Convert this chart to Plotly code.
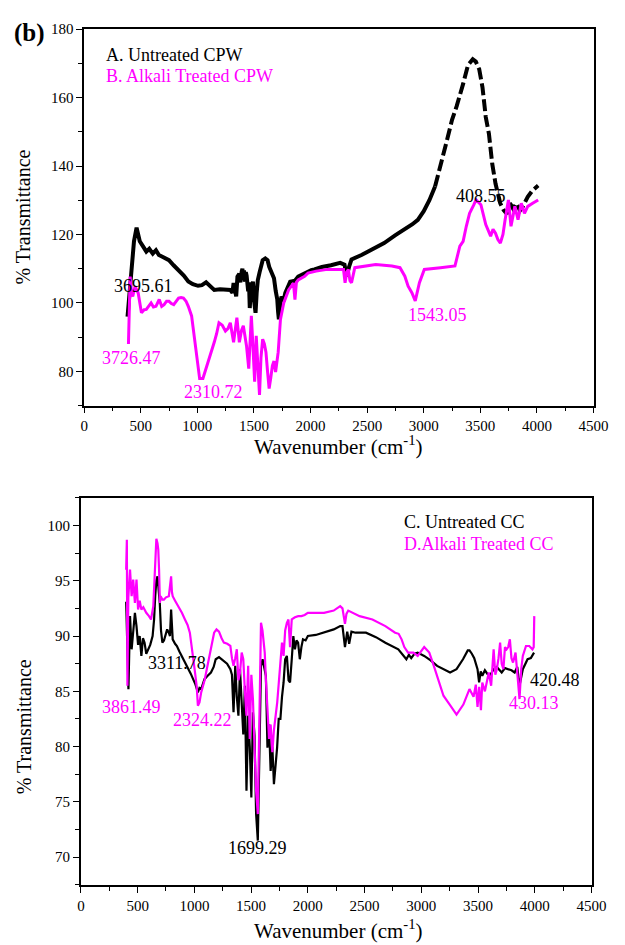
import plotly.graph_objects as go

# ---------------- Data ----------------
# Panel 1: CPW  (Untreated = black, Alkali treated = magenta)
cpw_untreated_wn = [383, 405, 420, 440, 463, 491, 520, 549, 575, 606, 634, 660, 691, 720, 749, 790, 834, 880, 920,
                    960, 1006, 1040, 1077, 1110, 1149, 1200, 1250, 1291, 1310, 1320, 1343, 1354, 1370, 1380, 1391,
                    1398, 1405, 1412, 1420, 1428, 1435, 1449, 1456, 1463, 1470, 1477, 1491, 1500, 1514, 1524, 1534,
                    1550, 1563, 1577, 1600, 1620, 1635, 1649, 1663, 1677, 1692, 1706, 1713, 1720, 1730, 1743, 1760,
                    1777, 1820, 1862, 1891, 1950, 2006, 2034, 2100, 2180, 2262, 2300, 2319, 2340, 2362, 2450, 2548,
                    2650, 2750, 2833, 2900, 2948, 3000, 3050, 3100]
cpw_untreated_t = [96.0, 104.0, 112.5, 118.0, 122.0, 118.0, 116.5, 115.0, 115.8, 114.4, 115.4, 114.0, 113.5, 113.0,
                   112.5, 111.0, 109.6, 108.0, 106.3, 105.5, 105.0, 105.2, 106.0, 104.8, 103.8, 104.0, 103.8, 103.8,
                   103.0, 105.8, 101.9, 107.7, 108.5, 106.0, 109.1, 110.0, 107.0, 109.5, 106.2, 109.0, 108.0, 103.4,
                   106.0, 98.5, 103.0, 104.0, 106.2, 101.0, 97.1, 103.0, 106.7, 109.0, 111.5, 112.5, 113.0, 112.5,
                   110.5, 109.6, 108.5, 107.2, 103.5, 101.0, 97.5, 95.2, 99.0, 101.9, 100.5, 102.9, 106.2, 106.5,
                   107.7, 108.8, 109.6, 109.8, 110.5, 111.0, 111.7, 111.2, 107.8, 110.5, 112.7, 114.0, 115.6, 117.5,
                   119.8, 121.4, 123.0, 124.3, 126.8, 130.0, 134.0]
cpw_untreated_hi_wn = [3100, 3150, 3205, 3250, 3291, 3348, 3391, 3433, 3460, 3490, 3519, 3548, 3576, 3605, 3634,
                       3676, 3705, 3735, 3762, 3790, 3819, 3850, 3876, 3919, 3962, 4011]
cpw_untreated_hi_t = [134.0, 140.0, 147.5, 153.5, 157.5, 164.0, 169.5, 171.2, 170.5, 168.3, 163.0, 154.3, 149.4,
                      140.7, 134.9, 129.1, 127.2, 126.0, 129.1, 127.5, 129.1, 127.0, 128.2, 131.0, 132.9, 134.3]

cpw_alkali_wn = [391, 400, 406, 418, 429, 449, 477, 506, 530, 549, 570, 591, 612, 634, 663, 685, 706, 728, 749, 770,
                 791, 812, 834, 856, 877, 900, 920, 949, 970, 991, 1020, 1049, 1077, 1100, 1120, 1149, 1170, 1191,
                 1220, 1248, 1270, 1291, 1320, 1335, 1349, 1371, 1390, 1406, 1420, 1434, 1454, 1477, 1490, 1506, 1520,
                 1535, 1549, 1562, 1577, 1592, 1606, 1620, 1634, 1648, 1663, 1677, 1691, 1714, 1734, 1763, 1806,
                 1849, 1862, 1875, 1891, 1948, 1977, 2050, 2148, 2291, 2305, 2320, 2334, 2348, 2362, 2391, 2480,
                 2576, 2719, 2790, 2833, 2862, 2895, 2925, 2962, 3005, 3148, 3276, 3319, 3348, 3376, 3405, 3440,
                 3462, 3505, 3548, 3591, 3612, 3634, 3655, 3677, 3700, 3719, 3748, 3771, 3805, 3833, 3862, 3890,
                 3919, 3962, 4011]
cpw_alkali_t = [88.0, 98.0, 107.7, 103.0, 101.9, 104.8, 102.9, 97.1, 98.0, 98.1, 99.0, 100.0, 98.8, 99.0, 101.0, 99.0,
                99.5, 100.5, 100.5, 99.8, 99.5, 100.5, 101.4, 101.6, 101.4, 100.5, 99.0, 96.2, 91.0, 85.6, 77.9, 77.9,
                80.8, 83.0, 85.6, 88.5, 91.0, 94.2, 93.5, 91.8, 92.5, 94.2, 88.5, 93.0, 95.7, 88.5, 92.0, 93.3, 90.0,
                87.5, 80.8, 96.2, 88.0, 77.0, 90.4, 82.0, 73.1, 84.0, 89.4, 88.0, 85.6, 80.0, 75.0, 78.0, 81.7, 83.0,
                79.8, 85.6, 95.2, 100.0, 103.8, 105.8, 101.0, 106.0, 106.7, 107.8, 108.7, 109.3, 109.8, 109.8,
                105.9, 109.0, 109.8, 106.5, 105.9, 110.3, 110.8, 111.2, 110.8, 110.3, 107.8, 104.9, 103.0, 100.6,
                105.9, 109.8, 110.3, 110.8, 116.6, 118.0, 122.4, 126.2, 128.5, 130.1, 128.7, 122.9, 119.5, 121.5,
                120.4, 118.5, 117.5, 120.0, 124.3, 130.1, 122.4, 128.2, 124.3, 129.1, 126.2, 128.2, 129.1, 130.1]

# Panel 2: CC  (Untreated = black, Alkali treated = magenta)
cc_untreated_wn = [399, 405, 412, 419, 433, 447, 462, 476, 490, 504, 518, 533, 547, 561, 576, 590, 611, 632, 645, 655,
                   665, 675, 685, 695, 706, 718, 732, 746, 760, 775, 785, 795, 802, 809, 830, 846, 868, 889, 917, 946,
                   968, 989, 1010, 1031, 1045, 1060, 1074, 1089, 1117, 1146, 1170, 1188, 1217, 1250, 1288, 1317, 1331,
                   1345, 1360, 1374, 1388, 1402, 1417, 1431, 1445, 1459, 1474, 1488, 1502, 1516, 1530, 1544, 1559,
                   1573, 1587, 1601, 1615, 1630, 1644, 1658, 1672, 1687, 1701, 1715, 1729, 1743, 1758, 1772, 1786,
                   1800, 1815, 1830, 1843, 1858, 1872, 1886, 1900, 1914, 1929, 1943, 1957, 1980, 2000, 2070, 2142,
                   2228, 2285, 2305, 2327, 2347, 2364, 2384, 2420, 2512, 2600, 2683, 2797, 2868, 2890, 2911, 2940,
                   2968, 3025, 3082, 3139, 3196, 3253, 3310, 3367, 3409, 3424, 3445, 3466, 3495, 3509, 3523, 3537,
                   3560, 3594, 3615, 3637, 3665, 3708, 3737, 3765, 3794, 3822, 3845, 3865, 3880, 3894, 3936, 3965,
                   3993]
cc_untreated_t = [93.1, 90.0, 88.0, 85.2, 91.8, 88.8, 90.5, 92.1, 90.9, 89.2, 90.0, 88.2, 89.8, 89.4, 88.4, 88.8, 89.2,
                  90.0, 91.5, 93.6, 95.0, 95.4, 94.0, 93.0, 90.5, 89.4, 89.6, 90.0, 90.6, 90.3, 90.0, 92.4, 90.5, 89.7,
                  89.3, 89.1, 88.6, 88.2, 87.6, 87.0, 86.6, 86.1, 85.6, 84.9, 85.3, 85.2, 85.6, 86.1, 86.4, 86.7, 87.2,
                  87.9, 88.1, 87.8, 87.5, 87.0, 86.5, 83.1, 87.3, 84.5, 82.8, 87.0, 83.5, 81.1, 85.5, 76.0, 82.8, 80.0,
                  75.4, 83.1, 81.0, 73.9, 71.5, 81.4, 87.3, 87.9, 87.2, 86.4, 79.9, 82.0, 77.8, 80.0, 76.6, 78.0, 79.9,
                  82.5, 82.5, 84.5, 85.8, 87.9, 88.2, 86.0, 85.8, 87.9, 90.0, 88.8, 89.6, 89.4, 87.9, 89.0, 89.7, 89.6,
                  90.0, 90.1, 90.3, 90.6, 90.9, 90.9, 89.0, 90.4, 89.3, 90.4, 90.3, 90.3, 89.9, 89.4, 88.8, 87.9, 88.3,
                  88.0, 88.4, 88.5, 88.2, 87.8, 87.3, 87.0, 86.7, 87.0, 87.9, 88.7, 88.7, 88.4, 88.0, 87.0, 85.8, 86.8,
                  86.4, 86.9, 86.4, 86.6, 87.0, 87.2, 86.7, 87.1, 87.0, 86.9, 86.7, 87.2, 85.5, 86.2, 87.0, 87.9, 88.0,
                  88.5]

cc_alkali_wn = [399, 402, 405, 410, 418, 433, 447, 461, 476, 490, 504, 518, 533, 550, 576, 600, 618, 638, 648, 655, 665,
                675, 682, 689, 696, 703, 718, 732, 750, 775, 785, 795, 802, 809, 830, 860, 890, 917, 940, 960, 982,
                1002, 1020, 1031, 1045, 1060, 1090, 1117, 1145, 1174, 1195, 1217, 1240, 1260, 1290, 1317, 1331, 1345,
                1360, 1374, 1388, 1402, 1417, 1431, 1445, 1459, 1474, 1488, 1502, 1516, 1530, 1544, 1559, 1573, 1587,
                1600, 1607, 1620, 1630, 1644, 1658, 1672, 1687, 1701, 1715, 1730, 1744, 1758, 1772, 1786, 1800, 1815,
                1829, 1843, 1858, 1886, 1915, 1943, 1972, 2000, 2070, 2142, 2228, 2285, 2305, 2327, 2340, 2356, 2456,
                2569, 2683, 2769, 2800, 2826, 2850, 2883, 2930, 2968, 3025, 3070, 3110, 3150, 3195, 3250, 3310, 3370,
                3424, 3460, 3480, 3495, 3510, 3525, 3537, 3560, 3594, 3615, 3637, 3652, 3665, 3680, 3694, 3708, 3723,
                3737, 3751, 3765, 3780, 3794, 3808, 3830, 3851, 3865, 3880, 3894, 3922, 3951, 3979, 3990, 3995]
cc_alkali_t = [96.0, 98.5, 98.7, 85.5, 93.5, 96.0, 93.6, 95.1, 93.0, 95.1, 92.4, 93.2, 92.4, 92.6, 92.1, 91.8, 91.5,
               92.7, 95.5, 97.8, 98.8, 98.4, 97.8, 96.0, 93.0, 93.6, 93.3, 93.3, 93.5, 93.6, 94.5, 95.4, 94.0, 93.6,
               93.2, 92.7, 92.1, 91.5, 91.0, 90.3, 88.8, 87.0, 85.5, 83.7, 84.0, 84.9, 86.0, 87.3, 88.8, 90.3, 90.6,
               90.4, 89.8, 89.4, 89.3, 89.1, 88.0, 87.3, 88.0, 88.8, 86.0, 86.7, 88.5, 87.9, 85.0, 82.8, 87.3, 80.7,
               86.5, 84.3, 80.0, 76.0, 73.9, 84.3, 91.2, 90.5, 89.7, 88.5, 86.1, 83.5, 80.7, 82.0, 79.5, 81.5, 82.5,
               84.0, 85.8, 88.0, 89.4, 88.2, 90.5, 91.2, 91.5, 89.0, 91.5, 91.7, 91.8, 91.8, 91.9, 92.1, 92.1, 92.1,
               92.3, 92.7, 92.5, 91.1, 92.0, 92.3, 91.8, 91.5, 90.9, 90.3, 90.2, 89.7, 89.0, 88.5, 88.5, 88.2, 89.0,
               88.5, 87.3, 86.0, 84.6, 83.8, 82.9, 83.8, 85.2, 84.5, 85.6, 83.6, 85.4, 83.3, 85.8, 85.0, 86.7, 85.5,
               88.8, 86.5, 87.0, 88.0, 89.4, 87.5, 87.0, 89.0, 88.8, 89.0, 89.7, 88.0, 87.6, 88.5, 85.8, 84.3, 87.0,
               88.2, 89.1, 89.1, 88.8, 89.0, 91.8]

x_ticks = [0, 500, 1000, 1500, 2000, 2500, 3000, 3500, 4000, 4500]

# ---------------- Figure ----------------
FONT = "Liberation Serif"
BLACK = "#000000"
MAG = "#FF00FF"

fig = go.Figure()

fig.add_trace(go.Scatter(x=cpw_untreated_wn, y=cpw_untreated_t, mode="lines",
                         line=dict(color=BLACK, width=4), xaxis="x", yaxis="y", showlegend=False))
fig.add_trace(go.Scatter(x=cpw_untreated_hi_wn, y=cpw_untreated_hi_t, mode="lines",
                         line=dict(color=BLACK, width=4, dash="12px,4px"), xaxis="x", yaxis="y",
                         showlegend=False))
fig.add_trace(go.Scatter(x=cpw_alkali_wn, y=cpw_alkali_t, mode="lines",
                         line=dict(color=MAG, width=3), xaxis="x", yaxis="y", showlegend=False))

fig.add_trace(go.Scatter(x=cc_untreated_wn, y=cc_untreated_t, mode="lines",
                         line=dict(color=BLACK, width=2.2), xaxis="x2", yaxis="y2", showlegend=False))
fig.add_trace(go.Scatter(x=cc_alkali_wn, y=cc_alkali_t, mode="lines",
                         line=dict(color=MAG, width=2.2), xaxis="x2", yaxis="y2", showlegend=False))

W, H = 625, 945


def px_dom(a, b, total):
    return [a / total, b / total]


axis_common = dict(showline=True, linecolor=BLACK, linewidth=1.6, mirror=True, ticks="outside",
                   ticklen=6, tickwidth=1.4, tickcolor=BLACK, showgrid=False, zeroline=False,
                   tickfont=dict(family=FONT, size=15, color=BLACK))

fig.update_layout(
    width=W, height=H,
    margin=dict(l=0, r=0, t=0, b=0),
    paper_bgcolor="white", plot_bgcolor="white",
    xaxis=dict(domain=px_dom(82.7, 608, W), range=[0, 4500], tickvals=x_ticks,
               minor=dict(dtick=250, tick0=0, ticks="outside", ticklen=4, tickcolor=BLACK, tickwidth=1.2),
               anchor="y", **axis_common),
    yaxis=dict(domain=[(H - 401) / H, (H - 21.3) / H], range=[70, 180], dtick=20, tick0=0,
               minor=dict(dtick=10, tick0=0, ticks="outside", ticklen=4, tickcolor=BLACK, tickwidth=1.2),
               anchor="x", **axis_common),
    xaxis2=dict(domain=px_dom(79.3, 606, W), range=[0, 4500], tickvals=x_ticks,
                minor=dict(dtick=250, tick0=0, ticks="outside", ticklen=4, tickcolor=BLACK, tickwidth=1.2),
                anchor="y2", **axis_common),
    yaxis2=dict(domain=[(H - 884.3) / H, (H - 494) / H], range=[67.5, 102.5], dtick=5, tick0=0,
                minor=dict(dtick=2.5, tick0=0, ticks="outside", ticklen=4, tickcolor=BLACK, tickwidth=1.2),
                anchor="x2", **axis_common),
)

ann = []


def label(text, x, y, color, xref="x", yref="y", size=18, xanchor="center", **kw):
    ann.append(dict(text=text, x=x, y=y, xref=xref, yref=yref, showarrow=False, xanchor=xanchor,
                    yanchor="middle", font=dict(family=FONT, size=size, color=color), **kw))


# Panel letter and axis titles
label("<b>(b)</b>", 26 / W, 1 - 25 / H, BLACK, xref="paper", yref="paper", size=25)
label("% Transmittance", 20 / W, 1 - 211 / H, BLACK, xref="paper", yref="paper", size=20, textangle=-90)
label("% Transmittance", 20 / W, 1 - 725 / H, BLACK, xref="paper", yref="paper", size=20, textangle=-90)
label("Wavenumber (cm<sup>-1</sup>)", 345 / W, 1 - 441 / H, BLACK, xref="paper", yref="paper", size=21)
label("Wavenumber (cm<sup>-1</sup>)", 345 / W, 1 - 929 / H, BLACK, xref="paper", yref="paper", size=21)

# Panel 1 texts
label("A. Untreated CPW", 174, 172.3, BLACK, xanchor="left")
label("B. Alkali Treated CPW", 174, 166.2, MAG, xanchor="left")
label("3695.61", 525, 105.0, BLACK)
label("3726.47", 422, 83.9, MAG)
label("2310.72", 1140, 74.0, MAG)
label("1543.05", 3121, 96.4, MAG)
label("408.55", 3504, 131.1, BLACK)

# Panel 2 texts
for a in [("C. Untreated CC", 2826, 100.3, BLACK), ("D.Alkali Treated CC", 2826, 98.3, MAG)]:
    ann.append(dict(text=a[0], x=a[1], y=a[2], xref="x2", yref="y2", showarrow=False, xanchor="left",
                    yanchor="middle", font=dict(family=FONT, size=18, color=a[3])))
for t, x, y, c in [("3311.78", 843, 87.6, BLACK), ("3861.49", 448, 83.6, MAG), ("2324.22", 1074, 82.4, MAG),
                   ("1699.29", 1555, 70.8, BLACK), ("420.48", 4178, 86.0, BLACK), ("430.13", 3993, 83.9, MAG)]:
    ann.append(dict(text=t, x=x, y=y, xref="x2", yref="y2", showarrow=False, xanchor="center",
                    yanchor="middle", font=dict(family=FONT, size=18, color=c)))

fig.update_layout(annotations=ann)

fig.write_html("out.html")
